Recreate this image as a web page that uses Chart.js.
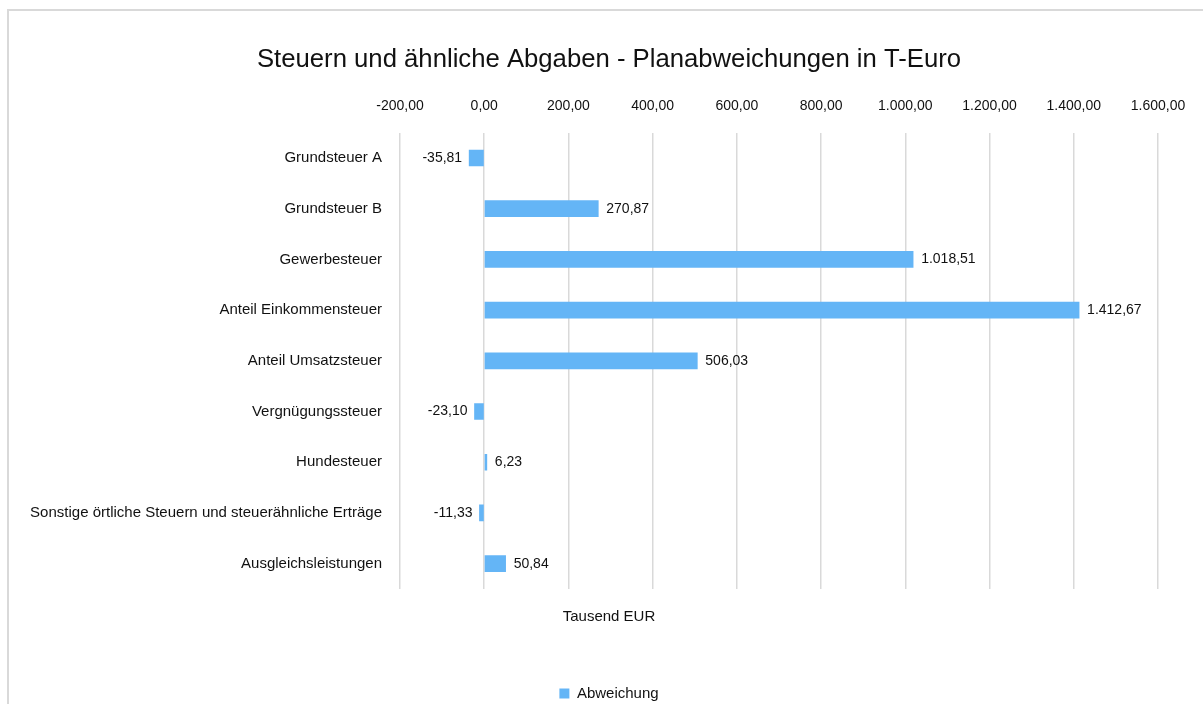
<!DOCTYPE html>
<html lang="de"><head><meta charset="UTF-8">
<title>Planabweichungen</title>
<script src="https://cdn.jsdelivr.net/npm/chart.js"></script>
<style>
    html, body { margin: 0; padding: 0; background: #fff; overflow: hidden; }
    .box {
        position: absolute;
        left: 7px;
        top: 9px;
        width: 1200px;
        height: 700px;
        border: 2px solid #d9d9d9;
    }
</style>
</head>
<body>
<div class="box"><canvas id="chart" width="1200" height="700"></canvas></div>
<script>
    // Daten
    const categories = [
        "Grundsteuer A",
        "Grundsteuer B",
        "Gewerbesteuer",
        "Anteil Einkommensteuer",
        "Anteil Umsatzsteuer",
        "Vergnügungssteuer",
        "Hundesteuer",
        "Sonstige örtliche Steuern und steuerähnliche Erträge",
        "Ausgleichsleistungen"
    ];
    const values = [-35.81, 270.87, 1018.51, 1412.67, 506.03, -23.10, 6.23, -11.33, 50.84];
    const seriesName = "Abweichung";
    const axisMin = -200, axisMax = 1600, axisStep = 200;
    const titleText = "Steuern und ähnliche Abgaben - Planabweichungen in T-Euro";
    const unitText = "Tausend EUR";

    const FONT = '"Liberation Sans", Arial, sans-serif';
    const barColor = "#64b5f6";

    function fmt(v) {
        let parts = Math.abs(v).toFixed(2).split(".");
        let int = parts[0].replace(/\B(?=(\d{3})+(?!\d))/g, ".");
        return (v < 0 ? "-" : "") + int + "," + parts[1];
    }

    const valueLabels = {
        id: "valueLabels",
        afterDatasetsDraw(chart) {
            const ctx = chart.ctx;
            const meta = chart.getDatasetMeta(0);
            ctx.save();
            ctx.font = "14px " + FONT;
            ctx.fillStyle = "#111";
            ctx.textBaseline = "middle";
            meta.data.forEach((bar, i) => {
                const v = values[i];
                const neg = v < 0;
                ctx.textAlign = neg ? "right" : "left";
                ctx.fillText(fmt(v), bar.x + (neg ? -7 : 8), bar.y);
            });
            ctx.restore();
        }
    };

    new Chart(document.getElementById("chart"), {
        type: "bar",
        data: {
            labels: categories,
            datasets: [{
                label: seriesName,
                data: values,
                backgroundColor: barColor,
                barThickness: 16
            }]
        },
        options: {
            indexAxis: "y",
            responsive: false,
            animation: false,
            layout: { padding: 0 },
            scales: {
                x: {
                    position: "top",
                    min: axisMin,
                    max: axisMax,
                    grid: { color: "#d9d9d9", lineWidth: 1.5, drawTicks: false },
                    border: { display: false },
                    ticks: {
                        stepSize: axisStep,
                        padding: 18,
                        color: "#111",
                        font: { family: FONT, size: 14 },
                        callback: v => fmt(v)
                    }
                },
                y: {
                    grid: { display: false, drawTicks: false },
                    border: { display: false },
                    ticks: {
                        padding: 18,
                        color: "#111",
                        font: { family: FONT, size: 15 }
                    },
                    afterFit(scale) { scale.width = 391; }
                },
                // leere rechte Achse als Rand
                yRight: {
                    type: "category",
                    position: "right",
                    grid: { display: false, drawTicks: false },
                    border: { display: false },
                    ticks: { display: false },
                    afterFit(scale) { scale.width = 51; }
                }
            },
            plugins: {
                title: {
                    display: true,
                    text: titleText,
                    color: "#111",
                    font: { family: FONT, size: 25.7, weight: "normal" },
                    padding: { top: 33, bottom: 5 }
                },
                subtitle: {
                    display: true,
                    position: "bottom",
                    text: unitText,
                    color: "#111",
                    font: { family: FONT, size: 15 },
                    padding: { top: 19, bottom: 50 }
                },
                legend: {
                    position: "bottom",
                    weight: 3000,
                    labels: {
                        boxWidth: 10,
                        boxHeight: 10,
                        color: "#111",
                        font: { family: FONT, size: 15 }
                    }
                },
                tooltip: { enabled: false }
            }
        },
        plugins: [valueLabels]
    });
</script>
</body>
</html>
